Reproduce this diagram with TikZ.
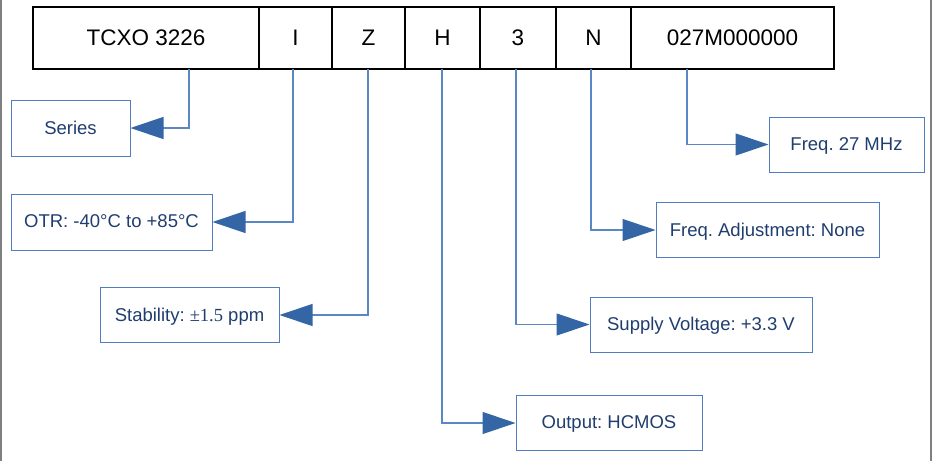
\documentclass[tikz,border=0pt]{standalone}
\usepackage{fontspec}
\setmainfont{Liberation Sans}
\newfontfamily\serifnum{Liberation Serif}
\usetikzlibrary{arrows.meta}
\definecolor{txtblue}{HTML}{1F3D6E}
\definecolor{boxblue}{HTML}{4F7DBF}
\definecolor{linblue}{HTML}{5B87C5}
\definecolor{tipblue}{HTML}{3465A4}
\definecolor{edgegray}{HTML}{7F7F7F}
\frenchspacing
\begin{document}
\begin{tikzpicture}[x=1pt,y=-1pt,
  codebox/.style={draw=black,line width=1.3pt,inner sep=0pt,minimum height=62pt,
    font=\fontsize{22.5}{26}\selectfont,text=black},
  labelbox/.style={draw=boxblue,line width=1pt,inner sep=0pt,minimum height=55pt,
    font=\fontsize{18.5}{22}\selectfont,text=txtblue,text depth=1pt},
  conn/.style={draw=linblue,line width=1.2pt,
    -{Triangle[length=33pt,width=22pt,color=tipblue,fill=tipblue]}}]
\useasboundingbox (0,0) rectangle (935,461);
\draw[edgegray,line width=1.6pt] (1,0) -- (1,461);
\draw[edgegray,line width=1.6pt] (931,0) -- (931,461);
% code row
\node[codebox,minimum width=226pt] (t0) at (146,38) {TCXO 3226};
\node[codebox,minimum width=73pt] (t1) at (295.5,38) {I};
\node[codebox,minimum width=73pt] (t2) at (368.5,38) {Z};
\node[codebox,minimum width=75pt] (t3) at (442.5,38) {H};
\node[codebox,minimum width=76pt] (t4) at (518,38) {3};
\node[codebox,minimum width=75pt] (t5) at (593.5,38) {N};
\node[codebox,minimum width=203pt] (t6) at (732.5,38) {027M000000};
% connector starts
\coordinate (c0) at (189,69);
\coordinate (c1) at (293,69);
\coordinate (c2) at (368,69);
\coordinate (c3) at (442,69);
\coordinate (c4) at (516,69);
\coordinate (c5) at (591,69);
\coordinate (c6) at (687,69);
% label boxes
\node[labelbox,minimum width=119pt,minimum height=56pt] (series) at (70.5,128) {Series};
\node[labelbox,minimum width=201pt,minimum height=56pt] (otr) at (111.5,222) {OTR: -40°C to +85°C};
\node[labelbox,minimum width=179pt,minimum height=55pt] (stab) at (189.5,315) {Stability: {\serifnum ±1.5} ppm};
\node[labelbox,minimum width=186pt,minimum height=55pt] (outp) at (609,423) {Output: HCMOS};
\node[labelbox,minimum width=222pt] (supp) at (701,324.5) {Supply Voltage: +3.3 V};
\node[labelbox,minimum width=223pt] (adj) at (767.5,230) {Freq. Adjustment: None};
\node[labelbox,minimum width=155pt] (freq) at (846.5,144.5) {Freq. 27 MHz};
% connectors
\draw[conn] (c0) |- (series);
\draw[conn] (c1) |- (otr);
\draw[conn] (c2) |- (stab);
\draw[conn] (c3) |- (outp);
\draw[conn] (c4) |- (supp);
\draw[conn] (c5) |- (adj);
\draw[conn] (c6) |- (freq);
\end{tikzpicture}
\end{document}
